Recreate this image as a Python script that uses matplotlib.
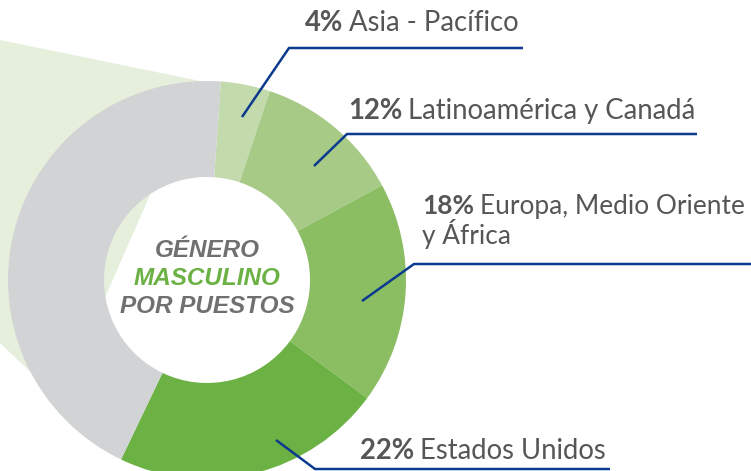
import matplotlib
matplotlib.use("Agg")
import matplotlib.pyplot as plt
from matplotlib.patches import Polygon

# ---- data ----
regions = ["Asia - Pacífico", "Latinoamérica y Canadá", "Europa, Medio Oriente\ny África", "Estados Unidos", "Resto"]
shares = [4, 12, 18, 22, 44]
pct_labels = ["4%", "12%", "18%", "22%"]
colors = ["#C3DBAC", "#A7CA87", "#8BBD63", "#6CB144", "#D1D3D4"]
center_lines = ["GÉNERO", "MASCULINO", "POR PUESTOS"]
center_colors = ["#707073", "#6CB144", "#707073"]

W, H = 751, 471
fig = plt.figure(figsize=(W / 100, H / 100), dpi=100)
ax = fig.add_axes([0, 0, 1, 1])
ax.set_xlim(0, W)
ax.set_ylim(0, H)
ax.set_aspect("equal")
ax.axis("off")

def Y(py):
    return H - py

cx, cy = 207, Y(280)
R, r_in = 199, 103

# light callout wedge behind donut
ax.add_patch(Polygon([(0, Y(40)), (200, Y(81)), (60, Y(400)), (0, Y(343))],
                     closed=True, facecolor="#E5EFDC", edgecolor="none", zorder=0))

ax.pie(shares, colors=colors, startangle=86, counterclock=False,
       center=(cx, cy), radius=R,
       wedgeprops=dict(width=R - r_in, edgecolor="none"), frame=True)
ax.set_xlim(0, W)
ax.set_ylim(0, H)
ax.axis("off")

# leader lines
line_col = "#0B3A8E"
leaders = [
    [(242, 117), (289, 48), (523, 48)],
    [(314, 166), (347, 134), (697, 134)],
    [(362, 301), (414, 264), (751, 264)],
    [(276, 440), (315, 469), (610, 469)],
]
for pts in leaders:
    xs = [p[0] for p in pts]
    ys = [Y(p[1]) for p in pts]
    ax.plot(xs, ys, color=line_col, lw=1.8, solid_capstyle="butt", zorder=5)

# labels (bold percent + regular text)
txt_col = "#555658"
label_fs = [19.8, 19.8, 18.9, 19.8]
label_pos = [(305, 31), (348, 119), (422, 214), (360, 459)]
fig.canvas.draw()
renderer = fig.canvas.get_renderer()
for (px, py), fs, pct, name in zip(label_pos, label_fs, pct_labels, regions[:4]):
    lines = name.split("\n")
    t = ax.text(px, Y(py), pct, fontsize=fs, fontweight="bold", color=txt_col,
                family="Lato", va="baseline", ha="left")
    bb = t.get_window_extent(renderer=renderer)
    x2 = ax.transData.inverted().transform((bb.x1, 0))[0] + 6
    ax.text(x2, Y(py), lines[0], fontsize=fs, color=txt_col, family="Lato",
            va="baseline", ha="left")
    for k, extra in enumerate(lines[1:], start=1):
        ax.text(px, Y(py + 30 * k), extra, fontsize=fs, color=txt_col,
                family="Lato", va="baseline", ha="left")

# center text
for i, (s, c) in enumerate(zip(center_lines, center_colors)):
    ax.text(cx, Y(257 + 28 * i), s, fontsize=17.5, fontweight="bold",
            fontstyle="italic", color=c, family="Liberation Sans",
            ha="center", va="baseline")

fig.savefig("out.png", dpi=100)
